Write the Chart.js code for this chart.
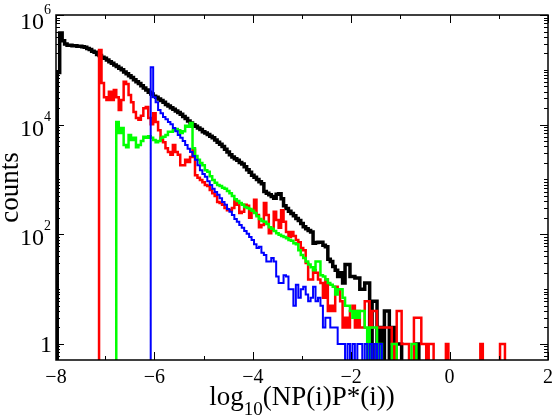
<!DOCTYPE html>
<html>
<head>
<meta charset="utf-8">
<script src="https://cdn.jsdelivr.net/npm/chart.js@4.4.0/dist/chart.umd.min.js"></script>
<style>
  html, body { margin: 0; padding: 0; background: #fff; }
  #wrap { width: 556px; height: 419px; }
</style>
</head>
<body>
<div id="wrap"><canvas id="myChart" width="556" height="419"></canvas></div>
<script>
'use strict';

// DATA
// histogram grid (log10 units): left edge of bin 0 and bin width
const binStart = -7.975;
const binWidth = 0.05;

// counts per bin, every series starts at its own first bin
const blackFirstBin = 0;
const blackCounts = [
  89000, 468000, 339000, 295000, 282000, 282000, 275000, 275000, 269000, 269000,
  263000, 257000, 245000, 234000, 219000, 209000, 191000, 182000, 170000, 162000,
  151000, 141000, 132000, 123000, 115000, 107000, 100000, 91200, 85100, 77600,
  72400, 66100, 60300, 56200, 51300, 46800, 42700, 38900, 36300, 33100,
  31600, 29500, 27500, 25700, 23400, 21900, 20400, 19100, 17800, 16600,
  15500, 14100, 12900, 11700, 10700, 10000, 9330, 8710, 8130, 7410,
  7080, 6610, 6170, 5750, 5250, 4790, 4370, 3980, 3550, 3160,
  2820, 2570, 2400, 2240, 2040, 1910, 1700, 1510, 1350, 1200,
  1100, 1000, 912, 832, 603, 562, 525, 490, 457, 537,
  550, 447, 331, 295, 263, 240, 219, 195, 178, 158,
  138, 126, 117, 110, 69, 71, 72, 72, 63, 59,
  35, 32, 26, 22, 17, 20, 13, 28, 28, 17,
  17, 16, 16, 10, 10, 13, 13, 0, 6, 6,
  0, 2, 0, 4, 4, 0, 2, 1, 1, 1,
  0, 0, 0, 0, 0, 0, 1,
];

const redFirstBin = 17;
const redCounts = [
  229000, 57500, 31600, 28200, 39800, 28200, 42700, 31600, 18600, 28200,
  60300, 55000, 34700, 25700, 17000, 13200, 12300, 14500, 20000, 20900,
  13200, 10200, 16200, 11200, 7940, 5250, 4790, 3720, 3160, 2820,
  4270, 3160, 2820, 1820, 1820, 2290, 2090, 2570, 3470, 1200,
  1070, 977, 891, 794, 759, 646, 562, 501, 389, 372,
  347, 302, 275, 275, 302, 427, 347, 245, 257, 347,
  331, 200, 275, 427, 224, 135, 148, 372, 224, 105,
  120, 257, 182, 132, 275, 170, 110, 89, 110, 93,
  79, 72, 56, 51, 30, 15, 15, 22, 20, 15,
  13, 7, 15, 4, 5, 4, 11, 10, 6, 2,
  3, 2, 4, 5, 2, 4, 2, 2, 6, 6,
  2, 4, 4, 2, 2, 2, 2, 2, 2, 1,
  0, 4, 4, 1, 1, 1, 0, 0, 3, 3,
  3, 1, 1, 0, 1, 1, 0, 0, 0, 0,
  0, 1, 0, 0, 0, 0, 0, 0, 0, 0,
  0, 0, 0, 0, 0, 1, 0, 0, 0, 0,
  0, 0, 0, 1, 1,
];

const greenFirstBin = 24;
const greenCounts = [
  11200, 7080, 8710, 4270, 3890, 6460, 5250, 5750, 3890, 4270,
  5010, 6030, 5750, 6170, 5750, 5250, 4790, 5010, 5750, 6030,
  6460, 7410, 7410, 7940, 8320, 7940, 7080, 7590, 9550, 9120,
  10700, 3720, 2690, 2290, 2000, 1820, 1480, 1380, 1150, 977,
  871, 794, 759, 708, 676, 617, 562, 501, 437, 407,
  372, 347, 316, 302, 288, 269, 245, 214, 191, 174,
  170, 155, 135, 126, 115, 105, 98, 93, 89, 85,
  79, 76, 69, 66, 51, 42, 37, 32, 28, 25,
  22, 32, 32, 18, 17, 15, 13, 12, 11, 8,
  10, 10, 7, 5, 5, 4, 3, 4, 3, 4,
  4, 2, 0, 2, 2, 2, 0, 1, 0, 0,
  0, 0, 1, 1, 0, 0, 0, 0, 0, 0,
  1, 1,
];

const blueFirstBin = 38;
const blueCounts = [
  112000, 31600, 25700, 18600, 16200, 13800, 12600, 11200, 10200, 8710,
  7590, 6460, 5750, 5010, 4270, 3630, 3160, 2690, 2290, 1820,
  1480, 1260, 1120, 933, 794, 676, 589, 525, 457, 389,
  347, 288, 257, 224, 191, 170, 148, 132, 115, 102,
  89, 79, 66, 56, 59, 46, 42, 32, 32, 37,
  32, 17, 13, 13, 18, 17, 10, 10, 5, 12,
  7, 10, 11, 8, 6, 7, 11, 6, 7, 5,
  2, 3, 3, 2, 2, 2, 1, 1, 1, 0,
  1, 0, 1, 0, 1, 1, 0, 1, 0, 1,
  0, 1, 0, 1,
];

// axes
const xMin = -8;
const xMax = 2;
const yMin = 0.51;
const yMax = 1e6;
const xTickValues = [-8, -6, -4, -2, 0, 2];
const xTickLabels = ['\u22128', '\u22126', '\u22124', '\u22122', '0', '2'];
const yTickValues = [1, 100, 10000, 1000000];
const yTickLabels = [['1', ''], ['10', '2'], ['10', '4'], ['10', '6']];

// empty bins drop below the axis floor
const emptyLevel = 0.3;
const fontFamily = '"Liberation Serif", "Times New Roman", serif';

const toSteps = function (firstBin, counts) {
  const points = [{ x: binStart + firstBin * binWidth, y: emptyLevel }];
  counts.forEach(function (c, i) {
    points.push({
      x: binStart + (firstBin + i) * binWidth,
      y: c > 0 ? c : emptyLevel,
    });
  });
  points.push({
    x: binStart + (firstBin + counts.length) * binWidth,
    y: emptyLevel,
  });
  return points;
};

const histSet = function (firstBin, counts, color, width) {
  return {
    data: toSteps(firstBin, counts),
    borderColor: color,
    borderWidth: width,
    stepped: true,
    pointRadius: 0,
    fill: false,
    clip: 0,
  };
};

// AXES PLUGIN - inward ticks on all four sides, labels, titles
const axisFrame = {
  id: 'axisFrame',
  afterDatasetsDraw(chart) {
    const { ctx, chartArea: area } = chart;
    const xScale = chart.scales.x;
    const yScale = chart.scales.y;
    const majorLen = 8;
    const minorLen = 4;

    ctx.save();
    ctx.strokeStyle = '#000';
    ctx.lineWidth = 1;
    ctx.beginPath();

    for (let v = xMin; v <= xMax; v++) {
      const px = Math.round(xScale.getPixelForValue(v)) + 0.5;
      const len = xTickValues.includes(v) ? majorLen : minorLen;
      ctx.moveTo(px, area.bottom);
      ctx.lineTo(px, area.bottom - len);
      ctx.moveTo(px, area.top);
      ctx.lineTo(px, area.top + len);
    }

    for (let e = -1; e <= 6; e++) {
      for (let m = 1; m <= 9; m++) {
        const v = m * Math.pow(10, e);
        if (v < yMin || v > yMax * 1.0001) continue;
        const py = Math.round(yScale.getPixelForValue(v)) + 0.5;
        const len = m === 1 && yTickValues.includes(v) ? majorLen : minorLen;
        ctx.moveTo(area.left, py);
        ctx.lineTo(area.left + len, py);
        ctx.moveTo(area.right, py);
        ctx.lineTo(area.right - len, py);
      }
    }
    ctx.stroke();

    ctx.lineWidth = 1.5;
    ctx.strokeRect(area.left, area.top, area.right - area.left, area.bottom - area.top);

    // tick labels
    ctx.fillStyle = '#000';
    ctx.textBaseline = 'alphabetic';
    ctx.font = '20px ' + fontFamily;
    ctx.textAlign = 'center';
    xTickValues.forEach(function (v, i) {
      ctx.fillText(xTickLabels[i], xScale.getPixelForValue(v), area.bottom + 23);
    });

    ctx.textAlign = 'right';
    yTickValues.forEach(function (v, i) {
      const py = yScale.getPixelForValue(v);
      const base = yTickLabels[i][0];
      const power = yTickLabels[i][1];
      let right = 51;
      if (power) {
        const baseline = Math.max(py + 11, 29);
        ctx.font = '14px ' + fontFamily;
        ctx.fillText(power, right, baseline - 15);
        right -= ctx.measureText(power).width;
        ctx.font = '24px ' + fontFamily;
        ctx.fillText(base, right, baseline);
      } else {
        ctx.font = '24px ' + fontFamily;
        ctx.fillText(base, right + 1, py + 8);
      }
    });

    // x title: log10(NP(i)P*(i))
    const mainFont = '27px ' + fontFamily;
    const subFont = '19px ' + fontFamily;
    ctx.textAlign = 'left';
    ctx.font = mainFont;
    const w1 = ctx.measureText('log').width;
    const w3 = ctx.measureText('(NP(i)P*(i))').width;
    ctx.font = subFont;
    const w2 = ctx.measureText('10').width;
    let tx = (area.left + area.right) / 2 - (w1 + w2 + w3) / 2;
    ctx.font = mainFont;
    ctx.fillText('log', tx, 405);
    tx += w1;
    ctx.font = subFont;
    ctx.fillText('10', tx, 415);
    tx += w2;
    ctx.font = mainFont;
    ctx.fillText('(NP(i)P*(i))', tx, 405);

    // y title
    ctx.translate(18, (area.top + area.bottom) / 2);
    ctx.rotate(-Math.PI / 2);
    ctx.textAlign = 'center';
    ctx.fillText('counts', 0, 0);
    ctx.restore();
  },
};

// CHART
const ctx = document.getElementById('myChart').getContext('2d');

const chart = new Chart(ctx, {
  type: 'line',
  data: {
    datasets: [
      // first dataset is drawn on top
      histSet(blueFirstBin, blueCounts, '#0000ff', 2),
      histSet(greenFirstBin, greenCounts, '#00ff00', 2.5),
      histSet(redFirstBin, redCounts, '#ff0000', 2.5),
      histSet(blackFirstBin, blackCounts, '#000000', 3.5),
    ],
  },
  options: {
    responsive: false,
    animation: false,
    events: [],
    layout: { padding: { left: 56, top: 15, right: 8, bottom: 59 } },
    plugins: {
      legend: { display: false },
      tooltip: { enabled: false },
    },
    scales: {
      x: { type: 'linear', min: xMin, max: xMax, display: false },
      y: { type: 'logarithmic', min: yMin, max: yMax, display: false },
    },
  },
  plugins: [axisFrame],
});
</script>
</body>
</html>
